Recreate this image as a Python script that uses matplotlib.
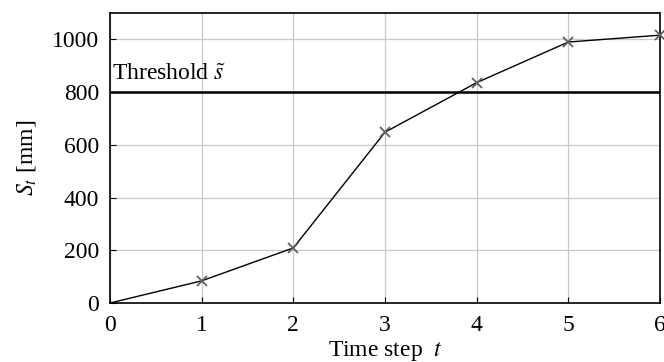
import matplotlib
matplotlib.use("Agg")
import matplotlib.pyplot as plt

plt.rcParams['font.family'] = ['Liberation Serif', 'DejaVu Serif']
plt.rcParams['mathtext.fontset'] = 'stix'

t = [0, 1, 2, 3, 4, 5, 6]
S = [0, 84, 209, 648, 836, 990, 1016]
threshold = 800
xticks = [0, 1, 2, 3, 4, 5, 6]
yticks = [0, 200, 400, 600, 800, 1000]

fig = plt.figure(figsize=(6.64, 3.62), dpi=100)
ax = fig.add_axes([0.1657, 0.163, 0.8283, 0.801])
ax.grid(True, color='#c8c8c8', linewidth=0.9)
ax.set_axisbelow(True)
ax.axhline(threshold, color='black', linewidth=1.8, zorder=2)
ax.plot(t, S, color='black', linewidth=1.0, zorder=3)
ax.plot(t[1:], S[1:], linestyle='none', marker='x', color='#606060',
        markersize=7, markeredgewidth=1.3, zorder=4, clip_on=False)
ax.text(0.02, 868, r'Threshold $\tilde{s}$', fontsize=17, va='center', ha='left')
ax.set_xlim(0, 6)
ax.set_ylim(0, 1100)
ax.set_xticks(xticks)
ax.set_yticks(yticks)
ax.tick_params(direction='in', labelsize=17, length=4)
ax.tick_params(axis='x', pad=9)
ax.tick_params(axis='y', pad=8)
for s in ax.spines.values():
    s.set_linewidth(1.2)
ax.set_xlabel(r'Time step  $t$', fontsize=17, labelpad=2)
ax.set_ylabel(r'$S_t$ [mm]', fontsize=17, labelpad=10)
fig.savefig('out.png', dpi=100)
